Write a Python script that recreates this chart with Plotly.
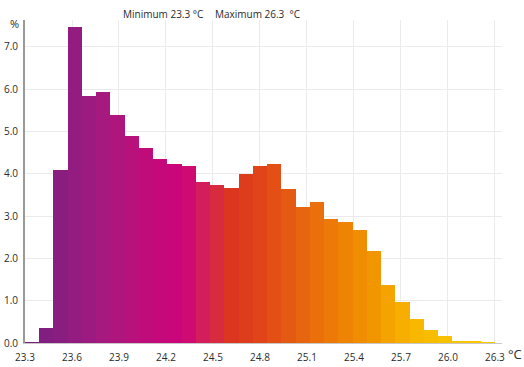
import numpy as np
import plotly.graph_objects as go

# ---- data ----
t_min = 23.3
t_max = 26.3
percent = [0.02, 0.35, 4.09, 7.47, 5.83, 5.93, 5.38, 4.89, 4.62, 4.36, 4.24,
           4.18, 3.80, 3.74, 3.67, 4.00, 4.18, 4.24, 3.63, 3.22, 3.34, 2.94,
           2.86, 2.66, 2.17, 1.36, 0.97, 0.56, 0.31, 0.17, 0.05, 0.03, 0.01]
x_ticks = [23.3, 23.6, 23.9, 24.2, 24.5, 24.8, 25.1, 25.4, 25.7, 26.0, 26.3]
y_ticks = [0, 1, 2, 3, 4, 5, 6, 7]

n = len(percent)
edges = np.linspace(t_min, t_max, n + 1)
centers = (edges[:-1] + edges[1:]) / 2
bw = (t_max - t_min) / n

# colour stops keyed by bar index (style only)
stops = [
    (0, "#7A1E7E"), (2, "#8A1D80"), (4, "#9C1B80"), (6, "#AF167D"),
    (8, "#C00C7B"), (10, "#C9067A"), (11, "#CF0A72"), (12, "#D41E5C"),
    (13, "#D92B40"), (14, "#DC3520"), (16, "#E04418"), (18, "#E55A12"),
    (20, "#EB6F0B"), (22, "#EF8404"), (24, "#F29600"), (25, "#F5A300"),
    (27, "#F8B800"), (29, "#F9C200"), (32, "#F9C800"),
]
colorscale = [[i / (n - 1), c] for i, c in stops]

L, R, T, B, W, H = 25, 22, 20, 24, 524, 367
pw = W - L - R
ph = H - T - B


def px(x):
    return (x - L) / pw


def py(y):
    return (H - B - y) / ph


fig = go.Figure(go.Bar(
    x=centers, y=percent, width=bw,
    marker=dict(color=list(range(n)), colorscale=colorscale, cmin=0, cmax=n - 1,
                line=dict(width=0)),
    hoverinfo="skip",
))

font = "Open Sans, Noto Sans, sans-serif"
tc = "#2b2b2b"
fig.update_layout(
    width=W, height=H,
    margin=dict(l=L, r=R, t=T, b=B, autoexpand=False),
    paper_bgcolor="white", plot_bgcolor="white",
    showlegend=False, bargap=0,
    font=dict(family=font, size=10, color=tc),
    xaxis=dict(range=[t_min, 26.345], tickvals=x_ticks, ticktext=[f"{v:.1f}" for v in x_ticks],
               showgrid=True, gridcolor="#ebebeb", gridwidth=1, zeroline=False, automargin=False,
               showline=True, linecolor="#c8c8c8", linewidth=1, ticks="", ticklabelstandoff=5),
    yaxis=dict(range=[0, 7.636], tickvals=y_ticks, ticktext=[f"{v:.1f}" for v in y_ticks],
               showgrid=True, gridcolor="#ebebeb", gridwidth=1, zeroline=False, automargin=False,
               showline=True, linecolor="#999999", linewidth=2, ticks="", ticklabelstandoff=3),
    annotations=[
        dict(text="%", x=px(14), y=py(23), xref="paper", yref="paper", showarrow=False,
             xanchor="center", yanchor="middle", font=dict(size=11, color=tc)),
        dict(text=f"Minimum {t_min} °C", x=px(121), y=py(14), xref="paper", yref="paper",
             xanchor="left", yanchor="middle", showarrow=False, font=dict(size=10, color=tc)),
        dict(text=f"Maximum {t_max}  °C", x=px(213), y=py(14), xref="paper", yref="paper",
             xanchor="left", yanchor="middle", showarrow=False, font=dict(size=10, color=tc)),
        dict(text="°C", x=px(515), y=py(354), xref="paper", yref="paper", showarrow=False,
             xanchor="center", yanchor="middle", font=dict(size=13, color=tc)),
    ],
)

fig.write_html(
    "out.html",
    config={"displayModeBar": False},
    post_script="document.body.style.margin='0';document.body.style.overflow='hidden';",
)
